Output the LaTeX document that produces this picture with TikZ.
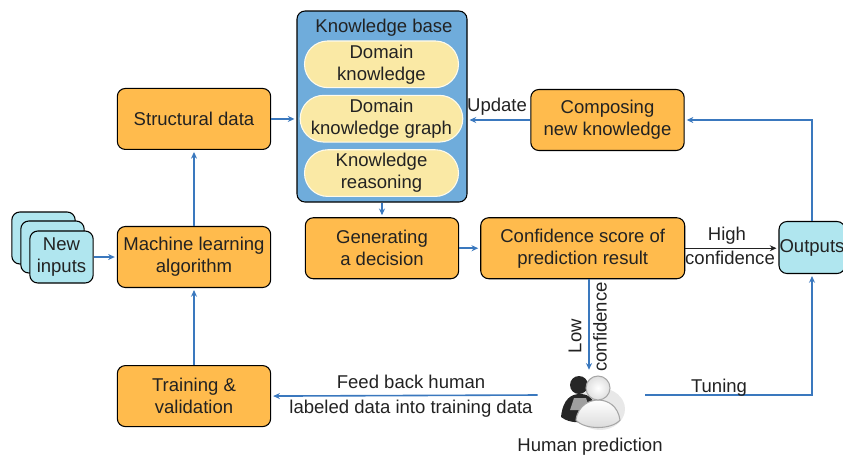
\documentclass[tikz,border=0pt]{standalone}
\usepackage{fontspec}
\setmainfont{Liberation Sans}
\usetikzlibrary{
  arrows.meta,
  positioning,
  shapes.misc,
  calc
}
\definecolor{boxOrange}{RGB}{255,187,77}
\definecolor{inputCyan}{RGB}{176,230,239}
\definecolor{baseBlue}{RGB}{111,172,219}
\definecolor{pillYellow}{RGB}{250,233,165}
\definecolor{flowBlue}{RGB}{58,120,190}
\definecolor{inkGray}{RGB}{34,34,34}
\tikzset{
  stepBox/.style={
    rectangle,
    rounded corners=6pt,
    draw=black,
    line width=0.8pt,
    fill=boxOrange,
    minimum width=115pt,
    minimum height=45.75pt,
    inner sep=0pt,
    align=center,
    text=inkGray,
    font=\fontsize{13.9}{16.5}\selectfont
  }
}
\tikzset{
  cyanBox/.style={
    stepBox,
    fill=inputCyan,
    minimum width=47.5pt,
    minimum height=39pt
  }
}
\tikzset{
  pill/.style={
    rounded rectangle,
    draw=white!80!pillYellow,
    line width=0.8pt,
    fill=pillYellow,
    minimum width=115.5pt,
    minimum height=35pt,
    inner sep=0pt,
    align=center,
    text=inkGray,
    font=\fontsize{13.9}{16.5}\selectfont
  }
}
\tikzset{
  flow/.style={
    -{Stealth[length=5pt,width=4.5pt]},
    draw=flowBlue,
    line width=1.2pt,
    shorten >=1.5pt
  }
}
\tikzset{
  caption/.style={
    inner sep=0pt,
    text=inkGray,
    font=\fontsize{13.9}{16}\selectfont
  }
}
\begin{document}
\begin{tikzpicture}[x=0.75pt, y=-0.75pt, >=Stealth]
    \useasboundingbox (0,0) rectangle (843,455);
    % left column
    \node[stepBox] (algorithm) at (194,257) {Machine learning\\algorithm};
    \node[stepBox, above=57pt of algorithm] (structural) {Structural data};
    \node[stepBox, below=57.75pt of algorithm] (training) {Training \&\\validation};
    \foreach \Name/\X/\Y in {backInput/43.5/238, midInput/52.5/247}{
      \node[cyanBox] (\Name) at (\X,\Y) {};
    }
    \node[cyanBox] (inputs) at (61.5,257) {New\\inputs};
    % knowledge base
    \node[stepBox, fill=baseBlue, minimum width=127.5pt, minimum height=143.25pt] (base) at (382,106.5) {};
    \node[caption] (baseTitle) at (384,27.5) {Knowledge base};
    \node[pill] (domain) at (381.5,64.3) {Domain\\knowledge};
    \node[pill, below=5pt of domain] (graph) {Domain\\knowledge graph};
    \node[pill, below=5pt of graph] (reasoning) {Knowledge\\reasoning};
    % decision row
    \node[stepBox, below=11pt of base] (decision) {Generating\\a decision};
    \node[stepBox, right=15.75pt of decision, minimum width=153pt] (score) {Confidence score of\\prediction result};
    \node[stepBox] (composing) at (607.5,120) {Composing\\new knowledge};
    \node[cyanBox, minimum width=49.5pt] (outputs) at (812,247.5) {Outputs};
    % person
    \node[minimum width=76.5pt, minimum height=34.5pt, inner sep=0pt] (human) at (589,395) {};
    \node[caption] (humanTitle) at (590,446.5) {Human prediction};
    \fill[gray!35, opacity=0.5] (600,409) ellipse (25 and 21);
    \fill[black!85] (579,385) circle (9);
    \fill[black!85] (561,417) .. controls (563,398) and (572,394) .. (580,394)
      .. controls (590,394) and (596,400) .. (597,417)
      .. controls (585,424) and (570,424) .. (561,417) -- cycle;
    \fill[gray!75] (574,398) -- (586,398) -- (590,410) -- (570,410) -- cycle;
    \shade[top color=white, bottom color=gray!30, draw=gray!70, line width=0.8pt]
      (576,420) .. controls (578,405) and (590,400) .. (598,400)
      .. controls (608,400) and (618,406) .. (620,420)
      .. controls (612,430) and (584,430) .. (576,420) -- cycle;
    \shade[inner color=white, outer color=gray!25, draw=gray!70, line width=0.8pt] (598,388) circle (12);
    % connectors
    \draw[flow] (inputs.east) -- (algorithm.west);
    \draw[flow] (algorithm.north) -- (structural.south);
    \draw[flow] (training.north) -- (algorithm.south);
    \draw[flow] (structural.east) -- (structural.east -| base.west);
    \draw[flow] (composing.west) -- (composing.west -| base.east);
    \draw[flow] (base.south) -- (decision.north);
    \draw[flow] (decision.east) -- (decision.east -| score.west);
    \draw[-{Stealth[length=5pt,width=4.5pt]}, line width=0.8pt, shorten >=1.5pt, draw=inkGray]
      (score.east) -- (score.east -| outputs.west);
    \draw[flow] (outputs.north) |- (composing.east);
    \draw[flow] (score.south -| human.north) -- (human.north);
    \draw[flow] (human.west) -- (training.east);
    \draw[flow] ($(human.east)+(5,0)$) -| (outputs.south);
    % labels
    \node[caption] (updateLabel) at (497,106.5) {Update};
    \node[caption] (highLabel) at (727,235.5) {High};
    \node[caption] (confidenceLabel) at (730,258) {confidence};
    \node[caption, rotate=90] (lowLabel) at (575,336) {Low};
    \node[caption, rotate=90] (lowConfidence) at (600,327) {confidence};
    \node[caption] (tuningLabel) at (719,387.5) {Tuning};
    \node[caption] (feedLabel) at (411,382) {Feed back human};
    \node[caption] (labeledLabel) at (411,408.5) {labeled data into training data};
  \end{tikzpicture}
\end{document}
